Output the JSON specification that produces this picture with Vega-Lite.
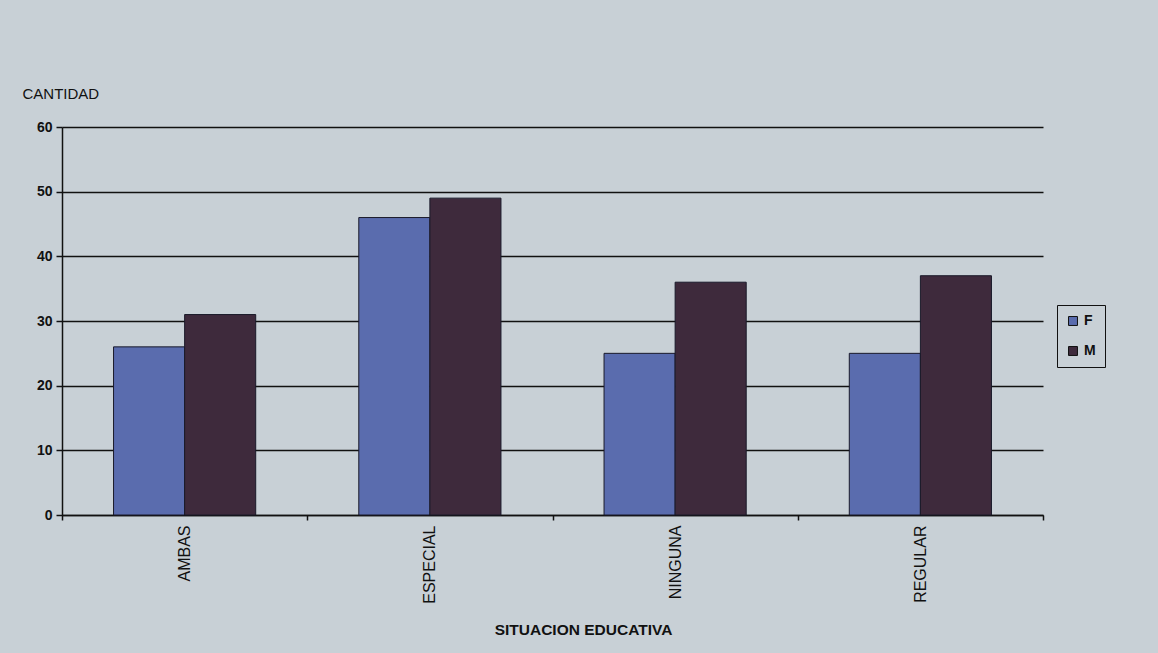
{
  "$schema": "https://vega.github.io/schema/vega-lite/v6.json",
  "autosize": "none",
  "width": 981,
  "height": 388,
  "padding": {"left": 62, "top": 127, "right": 115, "bottom": 138},
  "background": "#c8d0d6",
  "config": {
    "view": {"stroke": null},
    "font": "Liberation Sans"
  },
  "data": {
    "values": [
      {"situacion": "AMBAS", "sexo": "F", "cantidad": 26},
      {"situacion": "AMBAS", "sexo": "M", "cantidad": 31},
      {"situacion": "ESPECIAL", "sexo": "F", "cantidad": 46},
      {"situacion": "ESPECIAL", "sexo": "M", "cantidad": 49},
      {"situacion": "NINGUNA", "sexo": "F", "cantidad": 25},
      {"situacion": "NINGUNA", "sexo": "M", "cantidad": 36},
      {"situacion": "REGULAR", "sexo": "F", "cantidad": 25},
      {"situacion": "REGULAR", "sexo": "M", "cantidad": 37}
    ]
  },
  "mark": {"type": "bar", "stroke": "#1a1a2a", "strokeWidth": 1},
  "encoding": {
    "x": {
      "field": "situacion",
      "type": "nominal",
      "scale": {"paddingInner": 0, "paddingOuter": 0},
      "axis": {
        "title": "SITUACION EDUCATIVA",
        "titleFontSize": 15.5,
        "titleFontWeight": "bold",
        "titleColor": "#111",
        "titleX": 521,
        "titleY": 119,
        "titleBaseline": "alphabetic",
        "labelAngle": -90,
        "labelFontSize": 16,
        "labelColor": "#111",
        "labelPadding": 5,
        "domainColor": "#111",
        "domainWidth": 1.5,
        "ticks": true,
        "tickBand": "extent",
        "tickColor": "#111",
        "tickWidth": 1.5,
        "tickSize": 5
      }
    },
    "xOffset": {
      "field": "sexo",
      "type": "nominal",
      "scale": {"paddingInner": 0, "paddingOuter": 0.725}
    },
    "y": {
      "field": "cantidad",
      "type": "quantitative",
      "scale": {"domain": [0, 60]},
      "axis": {
        "title": "CANTIDAD",
        "titleAngle": 0,
        "titleAlign": "left",
        "titleBaseline": "alphabetic",
        "titleX": -40,
        "titleY": -29,
        "titleFontSize": 15,
        "titleFontWeight": "normal",
        "titleColor": "#111",
        "values": [0, 10, 20, 30, 40, 50, 60],
        "labelFontSize": 14,
        "labelFontWeight": "bold",
        "labelColor": "#111",
        "labelPadding": 4,
        "grid": true,
        "gridColor": "#111",
        "gridWidth": 1.5,
        "gridOpacity": 1,
        "domainColor": "#111",
        "domainWidth": 1.5,
        "tickColor": "#111",
        "tickWidth": 1.5,
        "tickSize": 6
      }
    },
    "color": {
      "field": "sexo",
      "type": "nominal",
      "scale": {"domain": ["F", "M"], "range": ["#5a6cae", "#3e2a3c"]},
      "legend": {
        "title": null,
        "orient": "none",
        "legendX": 995,
        "legendY": 178,
        "symbolType": "square",
        "symbolSize": 80,
        "symbolStrokeColor": "#111",
        "symbolStrokeWidth": 1,
        "labelFontSize": 14,
        "labelFontWeight": "bold",
        "labelColor": "#111",
        "rowPadding": 16,
        "padding": 9,
        "strokeColor": "#111"
      }
    }
  }
}
